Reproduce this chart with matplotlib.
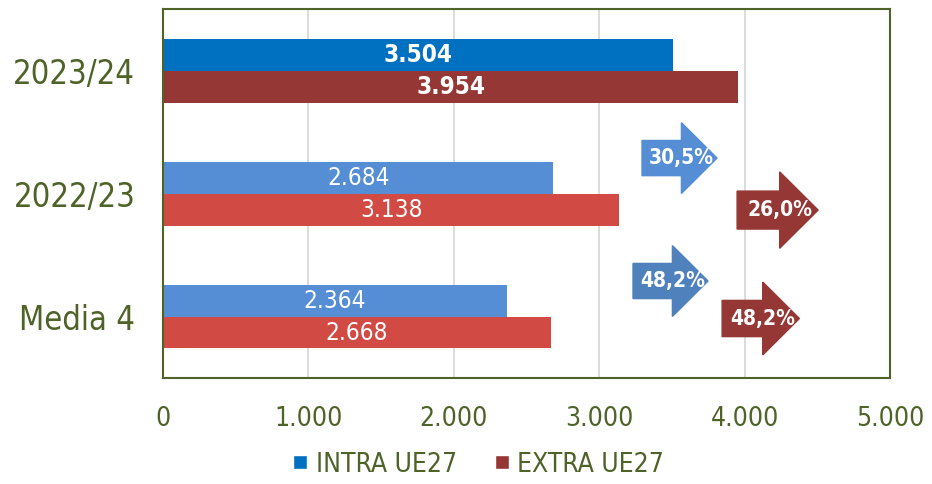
import numpy as np
import matplotlib.pyplot as plt
from matplotlib.patches import Polygon
from matplotlib.lines import Line2D

plt.rcParams['font.family'] = ['DejaVu Sans']
plt.rcParams['font.stretch'] = 'condensed'

categories = ['Media 4', '2022/23', '2023/24']
intra = [2364, 2684, 3504]
extra = [2668, 3138, 3954]
xticks = [0, 1000, 2000, 3000, 4000, 5000]
xtick_labels = ['0', '1.000', '2.000', '3.000', '4.000', '5.000']

# growth arrows: label, tail x, centre y, colour, size factor
arrow_labels = ['30,5%', '26,0%', '48,2%', '48,2%']
arrow_x = [3294, 3948, 3232, 3845]
arrow_y = [1.289, 0.866, 0.289, -0.016]
arrow_colors = ['#558ED5', '#953735', '#4F81BD', '#953735']
arrow_scale = [1.0, 1.08, 1.0, 1.03]

TXT = '#4F6228'
intra_cols = ['#558ED5', '#558ED5', '#0070C0']
extra_cols = ['#D14B44', '#D14B44', '#953735']

fig = plt.figure(figsize=(9.32, 4.84), dpi=100)
ax = fig.add_axes([0.175, 0.219, 0.780, 0.762])

y = np.arange(len(categories))
h = 0.26
ax.barh(y + h / 2, intra, height=h, color=intra_cols, zorder=2)
ax.barh(y - h / 2, extra, height=h, color=extra_cols, zorder=2)

for i in range(len(categories)):
    bold = 'bold' if i == 2 else 'normal'
    ax.text(intra[i] / 2, y[i] + h / 2, f'{intra[i]:,}'.replace(',', '.'),
            ha='center', va='center', color='white', fontsize=17.5, fontweight=bold, zorder=3)
    ax.text(extra[i] / 2, y[i] - h / 2, f'{extra[i]:,}'.replace(',', '.'),
            ha='center', va='center', color='white', fontsize=17.5, fontweight=bold, zorder=3)

# arrows
for lab, ax0, ay, c, k in zip(arrow_labels, arrow_x, arrow_y, arrow_colors, arrow_scale):
    L, hl, bw, hw = 516 * k, 245 * k, 0.143 * k, 0.288 * k
    pts = [(ax0, ay - bw), (ax0 + L - hl, ay - bw), (ax0 + L - hl, ay - hw),
           (ax0 + L, ay), (ax0 + L - hl, ay + hw), (ax0 + L - hl, ay + bw),
           (ax0, ay + bw)]
    ax.add_patch(Polygon(pts, closed=True, color=c, zorder=4))
    ax.text(ax0 + 270 * k, ay, lab, ha='center', va='center', color='white',
            fontsize=15, fontweight='bold', zorder=5)

ax.set_xlim(0, 5000)
ax.set_ylim(-0.5, 2.5)
ax.set_yticks(y)
ax.set_yticklabels(categories, fontsize=23.5, color=TXT)
ax.set_xticks(xticks)
ax.set_xticklabels(xtick_labels, fontsize=19, color=TXT)
ax.tick_params(axis='y', length=0, pad=20)
ax.tick_params(axis='x', length=0, pad=20)
ax.grid(axis='x', color='#D9D9D9', linewidth=1.3, zorder=0)
ax.set_axisbelow(True)
for s in ax.spines.values():
    s.set_color('#4F6228')
    s.set_linewidth(1.5)

handles = [Line2D([0], [0], marker='s', color='w', markerfacecolor='#0070C0', markersize=10, label='INTRA UE27'),
           Line2D([0], [0], marker='s', color='w', markerfacecolor='#953735', markersize=10, label='EXTRA UE27')]
fig.legend(handles=handles, loc='center', bbox_to_anchor=(0.513, 0.04), ncol=2, frameon=False,
           fontsize=19, labelcolor=TXT, handletextpad=0.3, columnspacing=1.4, handlelength=0.6)

fig.savefig('out.png', dpi=100)
